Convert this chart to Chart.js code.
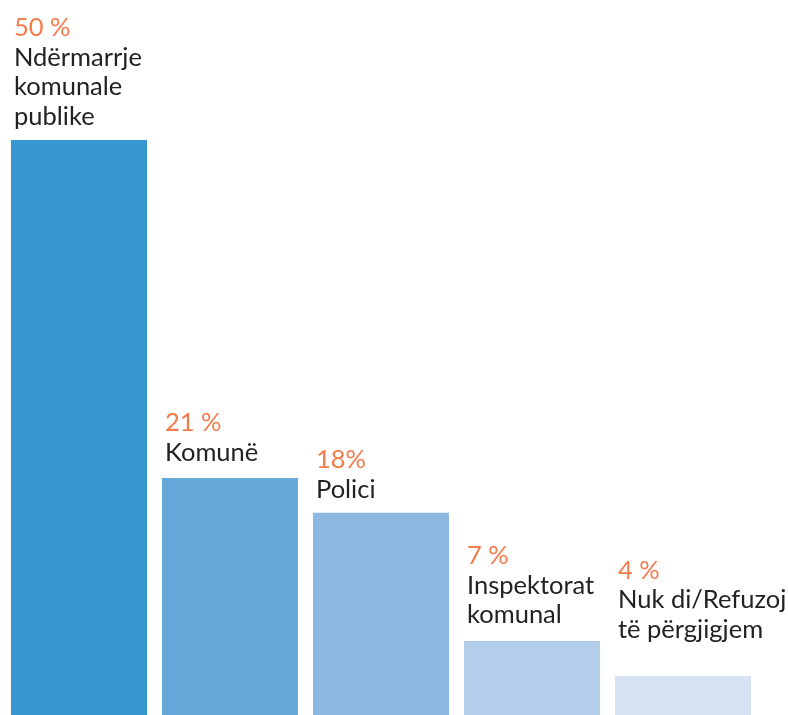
<!DOCTYPE html>
<html>
<head>
<meta charset="utf-8">
<script src="https://cdn.jsdelivr.net/npm/chart.js@4/dist/chart.umd.min.js"></script>
<style>
  html, body { margin: 0; padding: 0; background: #ffffff; }
  #wrap { width: 788px; height: 715px; position: relative; }
</style>
</head>
<body>
<div id="wrap"><canvas id="chart"></canvas></div>
<script>
// ── data ──────────────────────────────
const categories = [
  ["Ndërmarrje", "komunale", "publike"],
  ["Komunë"],
  ["Polici"],
  ["Inspektorat", "komunal"],
  ["Nuk di/Refuzoj", "të përgjigjem"],
];
const values = [50, 21, 18, 7, 4];
const percentLabels = ["50 %", "21 %", "18%", "7 %", "4 %"];

// ── styles ────────────────────────────
const BAR_COLORS = ["#3897D3", "#66A8D9", "#8CB8E2", "#B3CEEA", "#D6E3F3"];
const PCT_COLOR = "#F47B4C";
const TEXT_COLOR = "#222222";
const FONT = "'Lato', 'Noto Sans', sans-serif";
const LABEL_GAP = [15, 17, 15, 18, 38]; // gap between last text baseline and bar top

const barLabels = {
  id: "barLabels",
  afterDatasetsDraw(chart) {
    const ctx = chart.ctx;
    const meta = chart.getDatasetMeta(0);
    ctx.save();
    ctx.font = "25.5px " + FONT;
    ctx.textAlign = "left";
    ctx.textBaseline = "alphabetic";
    meta.data.forEach((bar, i) => {
      const x = bar.x - bar.width / 2 + 3;
      const lines = categories[i];
      const lh = 29.5;
      let y = bar.y - LABEL_GAP[i] - (lines.length - 1) * lh;
      ctx.fillStyle = PCT_COLOR;
      ctx.fillText(percentLabels[i], x, y - lh);
      ctx.fillStyle = TEXT_COLOR;
      lines.forEach((t, k) => ctx.fillText(t, x, y + k * lh));
    });
    ctx.restore();
  },
};

new Chart(document.getElementById("chart"), {
  type: "bar",
  data: {
    labels: categories.map(c => c.join(" ")),
    datasets: [{
      data: values,
      backgroundColor: BAR_COLORS,
      borderWidth: 0,
      categoryPercentage: 1,
      barPercentage: 136 / 151,
    }],
  },
  options: {
    responsive: true,
    maintainAspectRatio: false,
    animation: false,
    layout: { padding: { left: 3.5, right: 29.5, top: 0, bottom: 0 } },
    plugins: {
      legend: { display: false },
      tooltip: { enabled: false },
    },
    scales: {
      x: { display: false },
      y: { display: false, min: 0.65, max: 62.015 },
    },
  },
  plugins: [barLabels],
});
</script>
</body>
</html>
